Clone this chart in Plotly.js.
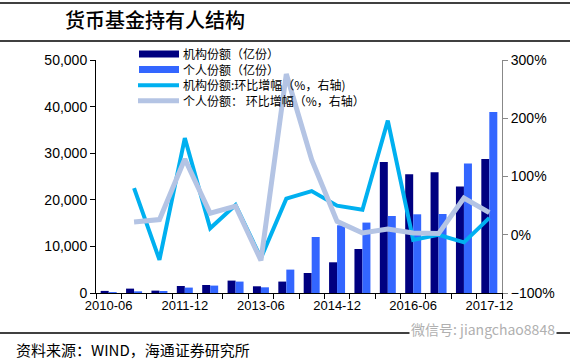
<!DOCTYPE html>
<html>
<head>
<meta charset="utf-8">
<script src="https://cdn.plot.ly/plotly-3.0.1.min.js"></script>
<style>html,body{margin:0;padding:0;background:#fff;}#chart{width:579px;height:360px;}</style>
</head>
<body>
<div id="chart"></div>
<script>
// Data
const categories = ["2010-06","2010-12","2011-06","2011-12","2012-06","2012-12","2013-06","2013-12",
                    "2014-06","2014-12","2015-06","2015-12","2016-06","2016-12","2017-06","2017-12"];
const tickLabels = ["2010-06","2011-12","2013-06","2014-12","2016-06","2017-12"];
const instShares = [450, 940, 510, 1500, 1720, 2660, 1440, 2450, 4290, 6590, 9440, 28110, 25470, 25900, 22830, 28760];
const retailShares = [200, 360, 430, 1160, 1590, 2450, 1220, 5020, 12020, 14530, 15110, 16530, 16890, 16960, 27770, 38840];
const instQoQ = [null, 80, -43, 166, 11, 51, -40, 62, 75, 50, 43, 196, -9, 0, -13, 29];
const retailQoQ = [null, 22, 26, 130, 37, 49, -44, 276, 129, 23, 3, 10, 3, 2, 63, 38];

const names = ["机构份额（亿份）", "个人份额（亿份）", "机构份额:环比增幅（%，右轴)", "个人份额： 环比增幅（%，右轴）"];
const colors = ["#000080", "#3366FF", "#00B0F0", "#B4C4E4"];

const traces = [
  {type: "bar", name: names[0], x: categories, y: instShares, marker: {color: colors[0]}, yaxis: "y"},
  {type: "bar", name: names[1], x: categories, y: retailShares, marker: {color: colors[1]}, yaxis: "y"},
  {type: "scatter", mode: "lines", name: names[2], x: categories, y: instQoQ, yaxis: "y2",
   line: {color: colors[2], width: 4}},
  {type: "scatter", mode: "lines", name: names[3], x: categories, y: retailQoQ, yaxis: "y2",
   line: {color: colors[3], width: 5}}
];

const tickText = categories.map(c => tickLabels.includes(c) ? c : "");

// pixel helpers for decoration
const L = 96, R = 502, T = 60, B = 293;
const px = v => (v - L) / (R - L);
const py = v => (B - v) / (B - T);

const shapes = [
  {type: "line", xref: "paper", yref: "paper", x0: px(0), x1: px(570), y0: py(3), y1: py(3),
   line: {color: "#000", width: 1.5}},
  {type: "line", xref: "paper", yref: "paper", x0: px(0), x1: px(570), y0: py(41), y1: py(41),
   line: {color: "#000", width: 1.5}},
  {type: "line", xref: "paper", yref: "paper", x0: px(0), x1: px(570), y0: py(333), y1: py(333),
   line: {color: "#000", width: 1.5}}
];
const annotations = [
  {text: "资料来源：WIND，海通证券研究所", xref: "paper", yref: "paper", x: px(14), y: py(349),
   xanchor: "left", yanchor: "middle", showarrow: false,
   font: {family: "Noto Sans CJK SC", size: 15, color: "#000"}},
  {text: "微信号: jiangchao8848", xref: "paper", yref: "paper", x: px(557), y: py(329),
   xanchor: "right", yanchor: "middle", showarrow: false, bgcolor: "#fff",
   font: {family: "Noto Sans CJK SC", size: 14, color: "#b0b0b0"}}
];

// legend drawn as a key (symbols + one multi-line label block)
const legFont = 12, lineH = legFont * 1.3, firstRow = 54;
const rowY = names.map((n, i) => firstRow + i * lineH);
names.forEach((n, i) => {
  if (i < 2) {
    shapes.push({type: "rect", xref: "paper", yref: "paper", x0: px(139), x1: px(179),
                 y0: py(rowY[i] - 3.5), y1: py(rowY[i] + 3.5), line: {width: 0}, fillcolor: colors[i]});
  } else {
    shapes.push({type: "line", xref: "paper", yref: "paper", x0: px(138), x1: px(179),
                 y0: py(rowY[i]), y1: py(rowY[i]), line: {color: colors[i], width: i === 2 ? 4 : 5}});
  }
});
annotations.push({text: names.join("<br>"), xref: "paper", yref: "paper", x: px(181),
                  y: py((rowY[0] + rowY[3]) / 2), xanchor: "left", yanchor: "middle", align: "left",
                  showarrow: false, font: {family: "Noto Sans CJK SC", size: legFont, color: "#000"}});

const layout = {
  width: 579, height: 360,
  margin: {l: L, r: 579 - R, t: T, b: 360 - B, pad: 0},
  paper_bgcolor: "#fff", plot_bgcolor: "#fff",
  font: {family: "Liberation Sans, Arial, sans-serif", color: "#000"},
  title: {text: "货币基金持有人结构", x: 65/579, xanchor: "left", xref: "container",
          y: 1 - 21/360, yanchor: "middle", yref: "container",
          font: {family: "Noto Sans CJK SC", size: 20, color: "#000", weight: 500}},
  barmode: "group", bargap: 0.37, bargroupgap: 0,
  showlegend: false,
  xaxis: {type: "category", tickmode: "array", tickvals: categories, ticktext: tickText,
          tickson: "boundaries", ticks: "outside", ticklen: 5, tickcolor: "#000", tickangle: 0,
          showline: true, linecolor: "#000", linewidth: 1, showgrid: false, zeroline: false,
          tickfont: {size: 13, color: "#000"}, range: [-0.5, 15.5]},
  yaxis: {range: [0, 50000], dtick: 10000, tickformat: ",", ticks: "outside", ticklen: 5,
          tickcolor: "#000", showline: true, linecolor: "#000", linewidth: 1,
          showgrid: false, zeroline: false, tickfont: {size: 14, color: "#000"}},
  yaxis2: {range: [-100, 300], dtick: 100, ticksuffix: "%", overlaying: "y", side: "right",
           ticks: "outside", ticklen: 5, tickcolor: "#888", showline: true, linecolor: "#888",
           linewidth: 1, showgrid: false, zeroline: false, tickfont: {size: 14, color: "#000"}},
  shapes: shapes,
  annotations: annotations
};

Plotly.newPlot("chart", traces, layout, {staticPlot: true, displayModeBar: false});
</script>
</body>
</html>
